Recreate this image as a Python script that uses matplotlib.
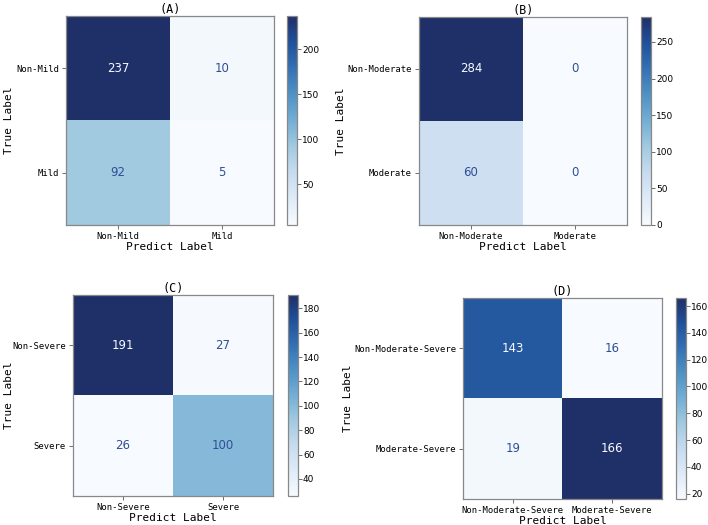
import numpy as np
import matplotlib
matplotlib.use("Agg")
import matplotlib.pyplot as plt
from matplotlib.colors import ListedColormap

titles = ["(A)", "(B)", "(C)", "(D)"]
class_labels = [
  ["Non-Mild", "Mild"],
  ["Non-Moderate", "Moderate"],
  ["Non-Severe", "Severe"],
  ["Non-Moderate-Severe", "Moderate-Severe"],
]
cm_a = [[237, 10], [92, 5]]
cm_b = [[284, 0], [60, 0]]
cm_c = [[191, 27], [26, 100]]
cm_d = [[143, 16], [19, 166]]
matrices = [cm_a, cm_b, cm_c, cm_d]

# axes boxes in pixels: left, top, right, bottom, colorbar left, ylabel x
W, H = 708, 525
boxes = [
  (66, 16, 274, 225, 287, 14),
  (419, 17, 627, 225, 641, 346),
  (73, 295, 273, 496, 288, 14),
  (463, 298, 662, 499, 676, 353),
]

mono = "DejaVu Sans Mono"

# Blues, a bit muted like the reference scan
base = plt.get_cmap("Blues")(np.linspace(0, 1, 256))
base[:, 0] = base[:, 0] + 0.10 * (1 - base[:, 0]) ** 2
base[:, 2] = base[:, 2] - 0.02 * (1 - base[:, 2])
cmap = ListedColormap(np.clip(base, 0, 1))

fig = plt.figure(figsize=(W / 100, H / 100), dpi=100)

for i, cm in enumerate(matrices):
  cm = np.array(cm)
  l, t, r, b, cl, yl = boxes[i]
  ax = fig.add_axes([l / W, (H - b) / H, (r - l) / W, (b - t) / H])
  cax = fig.add_axes([cl / W, (H - b) / H, 9.5 / W, (b - t) / H])

  im = ax.imshow(cm, cmap=cmap, aspect="auto", interpolation="nearest")
  vmin, vmax = cm.min(), cm.max()
  thresh = (vmax + vmin) / 2.0
  for yi in range(2):
    for xi in range(2):
      v = cm[yi, xi]
      col = cmap(0.0) if v > thresh else "#2f4f95"
      ax.text(xi, yi, str(v), ha="center", va="center", color=col,
              fontsize=8.5)

  ax.set_xticks([0, 1])
  ax.set_yticks([0, 1])
  ax.set_xticklabels(class_labels[i], family=mono, fontsize=6.4)
  ax.set_yticklabels(class_labels[i], family=mono, fontsize=6.4)
  ax.tick_params(length=3, width=0.6, pad=2, color="#555555")
  ax.set_xlabel("Predict Label", family=mono, fontsize=8, labelpad=1)
  ax.set_ylabel("True Label", family=mono, fontsize=8)
  ax.yaxis.set_label_coords((yl - l) / (r - l), 0.5)
  ax.set_title(titles[i], family=mono, fontsize=8.5, pad=2)
  for s in ax.spines.values():
    s.set_color("#888888")
    s.set_linewidth(0.9)

  cb = fig.colorbar(im, cax=cax)
  cb.ax.tick_params(labelsize=6.5, length=3, width=0.6, pad=1, color="#555555")
  cb.outline.set_edgecolor("#888888")
  cb.outline.set_linewidth(0.9)

fig.savefig("out.png", dpi=100)
